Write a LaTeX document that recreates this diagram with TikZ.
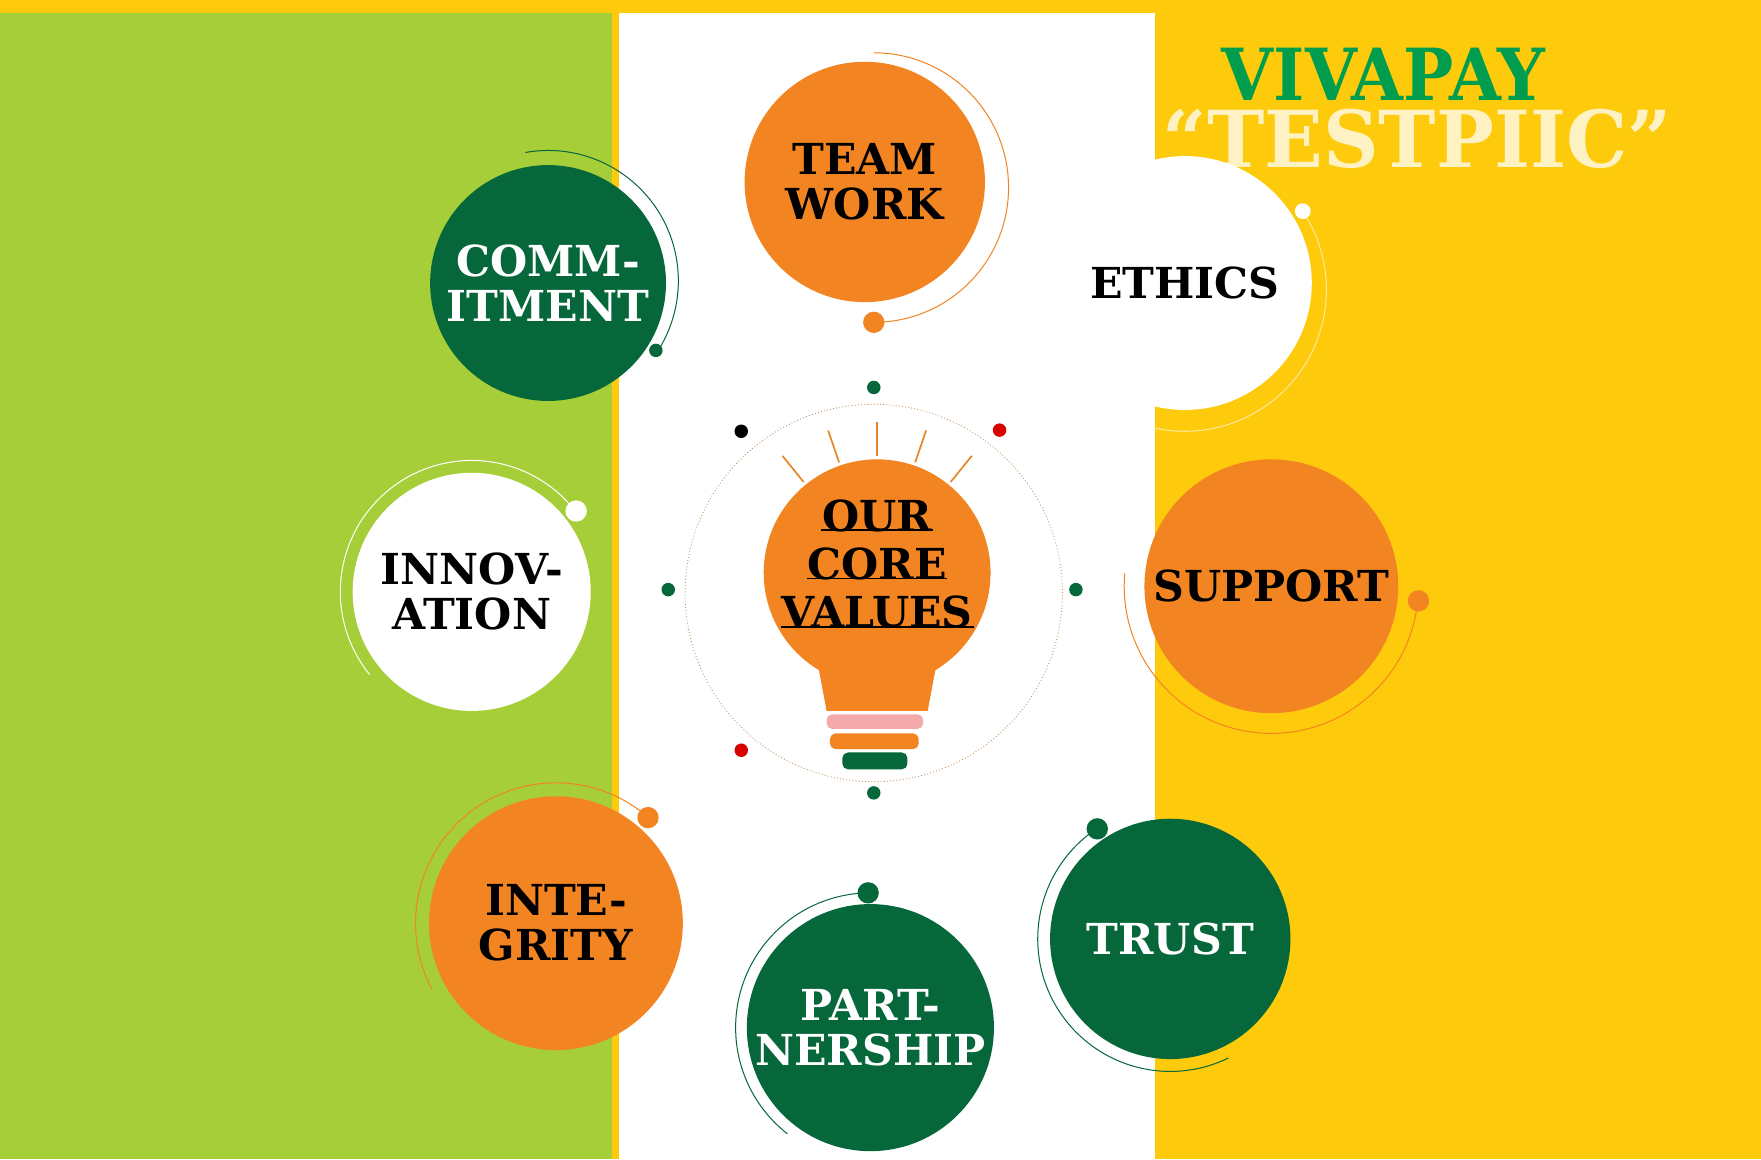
\documentclass[tikz,border=0pt]{standalone}
\usepackage{fontspec}
\setmainfont{DejaVu Serif}
\definecolor{bggreen}{RGB}{166,206,57}
\definecolor{bgyellow}{RGB}{254,202,12}
\definecolor{vorange}{RGB}{242,133,34}
\definecolor{vgreen}{RGB}{6,104,58}
\definecolor{tgreen}{RGB}{0,157,78}
\definecolor{paleyel}{RGB}{255,232,160}
\definecolor{bpink}{RGB}{244,170,170}
\definecolor{dotbrown}{RGB}{200,150,100}
\begin{document}
\begin{tikzpicture}[x=1pt,y=-1pt,
  val/.style={circle,minimum size=#1,inner sep=0pt,align=center,font=\fontsize{38}{40}\selectfont\bfseries},
  ring/.style={line width=0.9pt},
  sdot/.style={circle,inner sep=0pt,minimum size=12pt},
  bdot/.style={circle,inner sep=0pt,minimum size=19pt},
  cv/.style={font=\fontsize{38}{40}\selectfont\bfseries,inner sep=0.5pt,text=black}]
\useasboundingbox (0,0) rectangle (1568,1032);
\fill[bgyellow] (0,0) rectangle (1568,1032);
\fill[bggreen] (0,12) rectangle (545,1032);
\fill[white] (551,12) rectangle (1028,1032);
% title
\node[text=tgreen,font=\fontsize{64}{66}\selectfont\bfseries,xscale=0.93] (t1) at (1232,66) {VIVAPAY};
\node[text=white!75!bgyellow,font=\fontsize{70}{72}\selectfont\bfseries,xscale=0.98] (t2) at (1262,124) {“TESTPIIC”};
% team work
\draw[ring,vorange] (778,167) ++(-90:120) arc[start angle=-90,end angle=90,radius=120];
\node[bdot,fill=vorange] (d1) at (778,287) {};
\node[val=214pt,fill=vorange,text=black] (team) at (770,162) {TEAM\\WORK};
% commitment
\draw[ring,vgreen] (488,250) ++(-100:116) arc[start angle=-100,end angle=33,radius=116];
\node[sdot,fill=vgreen] (d2) at (584,312) {};
\node[val=210pt,fill=vgreen,text=white] (comm) at (488,252) {COMM-\\ITMENT};
% ethics
\draw[ring,paleyel] (1055,258) ++(-34:126) arc[start angle=-34,end angle=102,radius=126];
\node[sdot,fill=white,minimum size=14pt] (d3) at (1160,188) {};
\node[val=226pt,fill=white,text=black] (eth) at (1055,252) {ETHICS};
% innovation
\draw[ring,white] (420,527) ++(-38:117) arc[start angle=-38,end angle=-219,radius=117];
\node[bdot,fill=white] (d4) at (513,455) {};
\node[val=212pt,fill=white,text=black] (inn) at (420,527) {INNOV-\\ATION};
% support
\draw[ring,vorange] (1132,522) ++(6:131) arc[start angle=6,end angle=185,radius=131];
\node[bdot,fill=vorange] (d5) at (1263,535) {};
\node[val=226pt,fill=vorange,text=black] (sup) at (1132,522) {SUPPORT};
% integrity
\draw[ring,vorange] (495,822) ++(-49:125) arc[start angle=-49,end angle=-208,radius=125];
\node[bdot,fill=vorange] (d6) at (577,728) {};
\node[val=226pt,fill=vorange,text=black] (integ) at (495,822) {INTE-\\GRITY};
% partnership
\draw[ring,vgreen] (775,915) ++(-91:120) arc[start angle=-91,end angle=-232,radius=120];
\node[bdot,fill=vgreen] (d7) at (773,795) {};
\node[val=220pt,fill=vgreen,text=white] (part) at (775,915) {PART-\\NERSHIP};
% trust
\draw[ring,vgreen] (1042,836) ++(236:118) arc[start angle=236,end angle=64,radius=118];
\node[bdot,fill=vgreen] (d8) at (977,738) {};
\node[val=214pt,fill=vgreen,text=white] (trust) at (1042,836) {TRUST};
% centre ring
\node[circle,draw=dotbrown,dotted,line width=0.8pt,minimum size=336pt,inner sep=0pt] (ringc) at (778,528) {};
\node[sdot,fill=vgreen] (s1) at (778,345) {};
\node[sdot,fill=vgreen] (s2) at (778,706) {};
\node[sdot,fill=vgreen] (s3) at (595,525) {};
\node[sdot,fill=vgreen] (s4) at (958,525) {};
\node[sdot,fill=black] (s5) at (660,384) {};
\node[sdot,fill=red!85!black] (s6) at (890,383) {};
\node[sdot,fill=red!85!black] (s7) at (660,668) {};
% bulb
\foreach \a in {-129,-109,-90,-71,-51}
  \draw[vorange!80!brown,line width=1.5pt] (781,510) ++(\a:104) -- ++(\a:30);
\fill[vorange] (781,510) circle[radius=101];
\fill[vorange] (727,585) -- (835,585) -- (826,633) -- (736,633) -- cycle;
\fill[bpink,rounded corners=5pt] (736,636) rectangle (822,649);
\fill[vorange,rounded corners=5pt] (739,653) rectangle (818,667);
\fill[vgreen,rounded corners=5pt] (750,670) rectangle (808,685);
\node[cv] (c1) at (781,459) {OUR};
\node[cv] (c2) at (781,502) {CORE};
\node[cv] (c3) at (781,545) {VALUES};
\foreach \n in {c1,c2,c3}
  \draw[line width=1.6pt] ([yshift=2pt]\n.south west) -- ([yshift=2pt]\n.south east);
\end{tikzpicture}
\end{document}
